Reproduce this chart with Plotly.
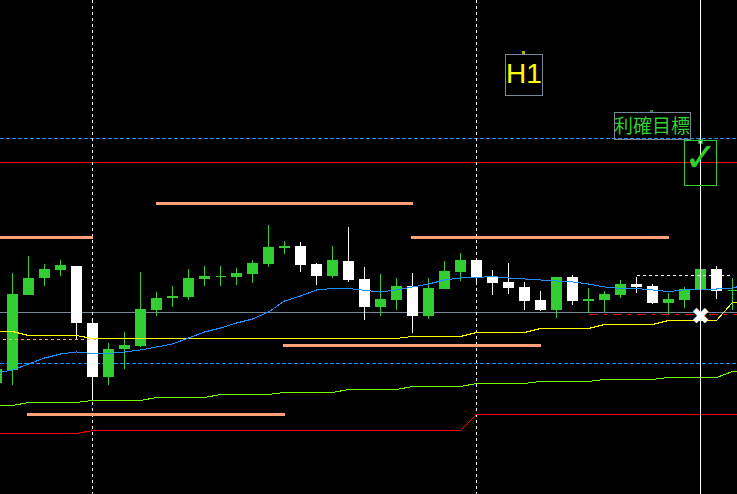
import plotly.graph_objects as go

# Bar indices. The chart has no price scale, so values are read in screen rows of the picture.
bar_index = list(range(-1, 46))
line_index = list(range(-1, 47))
opens = [383, 370, 295, 278, 270, 266, 323, 377, 349, 346, 310, 298, 297, 279, 277, 277, 274, 264, 248, 246, 264, 276, 261, 279, 307, 300, 286, 316, 289, 272, 260, 277, 282, 287, 300, 310, 277, 301, 300, 295, 284, 286, 303, 300, 290, 269, 291]
highs = [360, 273, 256, 264, 260, 266, 319, 343, 332, 272, 292, 286, 269, 266, 266, 268, 260, 225, 241, 242, 263, 246, 227, 267, 274, 278, 273, 278, 261, 253, 260, 270, 263, 282, 291, 277, 275, 288, 291, 280, 277, 284, 293, 287, 269, 266, 278]
lows = [385, 385, 295, 286, 276, 339, 400, 385, 369, 347, 316, 307, 300, 286, 286, 285, 283, 267, 254, 272, 285, 278, 282, 320, 316, 310, 333, 319, 289, 281, 285, 295, 294, 310, 311, 318, 305, 313, 312, 298, 293, 304, 314, 308, 290, 299, 310]
closes = [369, 294, 278, 269, 265, 323, 377, 349, 345, 309, 298, 296, 278, 276, 276, 273, 263, 247, 246, 265, 276, 260, 280, 307, 299, 286, 316, 288, 271, 260, 277, 283, 288, 301, 310, 277, 301, 299, 294, 284, 287, 303, 299, 289, 269, 291, 290]

ma_blue = [373, 370, 364, 358, 354, 352, 353.5, 353.5, 352, 350, 347, 344, 338, 332, 328, 323, 319, 312, 301, 296, 290, 288.5, 288.5, 290, 292, 290, 287, 284, 280, 278, 277.5, 276.5, 278, 279, 279.5, 280.5, 282, 284, 287, 288.5, 288.5, 290, 291.5, 290, 289, 289, 288, 284]
ma_yellow = [331.5, 331.5, 335.5, 335.5, 335.5, 335.5, 338.5, 338.5, 338.5, 338.5, 338.5, 338.5, 338.5, 338.5, 338.5, 338.5, 338.5, 338.5, 338.5, 338.5, 338.5, 338.5, 338.5, 338.5, 338.5, 338.5, 336.5, 336.5, 336.5, 336.5, 332.5, 332.5, 332.5, 332.5, 328.5, 328.5, 328.5, 328.5, 324.5, 324.5, 324.5, 324.5, 320.5, 320.5, 320.5, 320.5, 302.5, 302.5]
ma_green = [405.5, 405.5, 402.5, 402.5, 402.5, 402.5, 400.5, 400.5, 400.5, 400.5, 397.5, 397.5, 397.5, 397.5, 394.5, 394.5, 394.5, 394.5, 392.5, 392.5, 392.5, 392.5, 389.5, 389.5, 389.5, 389.5, 386.5, 386.5, 386.5, 386.5, 383.5, 383.5, 383.5, 383.5, 381.5, 381.5, 381.5, 381.5, 379.5, 379.5, 379.5, 379.5, 377.5, 377.5, 377.5, 377.5, 371.5, 371.5]
ma_red = [433.5, 433.5, 433.5, 433.5, 433.5, 433.5, 430.5, 430.5, 430.5, 430.5, 430.5, 430.5, 430.5, 430.5, 430.5, 430.5, 430.5, 430.5, 430.5, 430.5, 430.5, 430.5, 430.5, 430.5, 430.5, 430.5, 430.5, 430.5, 430.5, 430.5, 414.5, 414.5, 414.5, 414.5, 414.5, 414.5, 414.5, 414.5, 414.5, 414.5, 414.5, 414.5, 414.5, 414.5, 414.5, 414.5, 414.5, 414.5]

# Long horizontal levels
level_blue = [138.5, 363.5]
level_red = 162.5
level_gray = 312.5
vlines_dashed = [5, 29]
vline_solid = 43

# Salmon trend segments: start bar, end bar, level
seg_starts = [-1.0, 8.94, 24.9, 16.9, 0.9]
seg_ends = [5.0, 25.03, 41.03, 33.03, 17.03]
seg_levels = [237.5, 203.5, 237.5, 345.5, 414.5]

GREEN = "#32CD32"
WHITE = "#FFFFFF"
SALMON = "#FFA07A"
BLUE = "#1E90FF"
YELLOW = "#FFFF00"
LAWN = "#7CFC00"
RED = "#FF0000"
GRAY = "#778899"


def px(p):
    return (p - 12.5) / 16


def candles(color, rising):
    idx = [i for i in range(len(bar_index)) if (opens[i] > closes[i]) == rising]
    # the 1px outline grows each body by half a pixel on both ends
    o = [opens[i] + (-0.5 if rising else 0.5) for i in idx]
    c = [closes[i] + (0.5 if rising else -0.5) for i in idx]
    style = dict(line=dict(color=color, width=1), fillcolor=color)
    return go.Candlestick(
        x=[bar_index[i] for i in idx], open=o, close=c,
        high=[highs[i] for i in idx], low=[lows[i] for i in idx],
        increasing=style, decreasing=style, whiskerwidth=0,
        showlegend=False, hoverinfo="skip",
    )


fig = go.Figure()

# vertical and horizontal grid-like objects under the candles
for v in vlines_dashed:
    fig.add_shape(type="line", x0=v, x1=v, y0=0, y1=494, layer="below",
                  line=dict(color=WHITE, width=1, dash="3px,3px"))
for lvl in level_blue:
    fig.add_shape(type="line", xref="paper", x0=0, x1=1, y0=lvl, y1=lvl, layer="below",
                  line=dict(color=BLUE, width=1, dash="4px,2px"))
fig.add_shape(type="line", xref="paper", x0=0, x1=1, y0=level_red, y1=level_red, layer="below",
              line=dict(color=RED, width=1))
fig.add_shape(type="line", xref="paper", x0=0, x1=1, y0=level_gray, y1=level_gray, layer="below",
              line=dict(color=GRAY, width=1))

fig.add_trace(candles(GREEN, True))
fig.add_trace(candles(WHITE, False))

for series, col in [(ma_yellow, YELLOW), (ma_green, LAWN), (ma_red, RED), (ma_blue, BLUE)]:
    fig.add_trace(go.Scatter(x=line_index, y=series, mode="lines", showlegend=False,
                             hoverinfo="skip", line=dict(color=col, width=1)))

for a, b, lvl in zip(seg_starts, seg_ends, seg_levels):
    fig.add_trace(go.Scatter(x=[a, b], y=[lvl, lvl], mode="lines", showlegend=False,
                             hoverinfo="skip", line=dict(color=SALMON, width=3)))

# dashed short levels
fig.add_trace(go.Scatter(x=[-1, 5.2], y=[339.5, 339.5], mode="lines", showlegend=False, hoverinfo="skip",
                         line=dict(color=SALMON, width=1, dash="3px,3px")))
fig.add_trace(go.Scatter(x=[36, 46], y=[314.5, 314.5], mode="lines", showlegend=False, hoverinfo="skip",
                         line=dict(color=RED, width=1, dash="9px,6px,3px,6px")))
fig.add_trace(go.Scatter(x=[39, 44.9], y=[275.5, 275.5], mode="lines", showlegend=False, hoverinfo="skip",
                         line=dict(color=WHITE, width=1, dash="3px,3px")))

fig.add_shape(type="line", x0=vline_solid, x1=vline_solid, y0=0, y1=494,
              line=dict(color=WHITE, width=1))

# object boxes
fig.add_shape(type="rect", x0=px(505.5), x1=px(542.5), y0=54.5, y1=95.5, line=dict(color=GRAY, width=1))
fig.add_shape(type="rect", x0=px(614.5), x1=px(690.5), y0=112.5, y1=139.5, line=dict(color=GRAY, width=1))
fig.add_shape(type="rect", x0=px(684.5), x1=px(716.5), y0=140.5, y1=185.5, line=dict(color=GREEN, width=1))

# anchor points
fig.add_trace(go.Scatter(x=[px(523), px(651), px(700.5)], y=[52, 111, 141.5], mode="markers",
                         showlegend=False, hoverinfo="skip",
                         marker=dict(symbol="square", size=[3, 3, 4],
                                     color=[YELLOW, GREEN, WHITE],
                                     line=dict(color=[YELLOW, GREEN, GREEN], width=[0, 0, 1]))))

labels = [
    dict(text="H1", px=524, y=73.5, size=28, color=YELLOW, family="Liberation Sans"),
    dict(text="利確目標", px=652, y=124, size=19, color=GREEN, family="Noto Sans CJK JP"),
    dict(text="<b>✓</b>", px=700.5, y=157, size=40, color=GREEN, family="DejaVu Sans"),
    dict(text="✖", px=700, y=315.5, size=23, color=WHITE, family="DejaVu Sans"),
]
for lab in labels:
    fig.add_annotation(x=px(lab["px"]), y=lab["y"], text=lab["text"], showarrow=False,
                       font=dict(size=lab["size"], color=lab["color"], family=lab["family"]),
                       xanchor="center", yanchor="middle")

fig.update_layout(
    width=737, height=494, autosize=False,
    margin=dict(l=0, r=0, t=0, b=0, pad=0),
    paper_bgcolor="#000000", plot_bgcolor="#000000",
    boxgap=0.375, boxgroupgap=0, boxmode="overlay", showlegend=False,
    xaxis=dict(range=[px(0), px(737)], visible=False, fixedrange=True, rangeslider=dict(visible=False)),
    yaxis=dict(range=[494, 0], visible=False, fixedrange=True),
)

crisp = ("document.body.style.margin='0';document.body.style.background='#000';"
         "var s=document.createElement('style');"
         "s.textContent='.js-plotly-plot svg path{shape-rendering:crispEdges}';"
         "document.head.appendChild(s);")
fig.write_html("out.html", config=dict(displayModeBar=False), post_script=crisp)
